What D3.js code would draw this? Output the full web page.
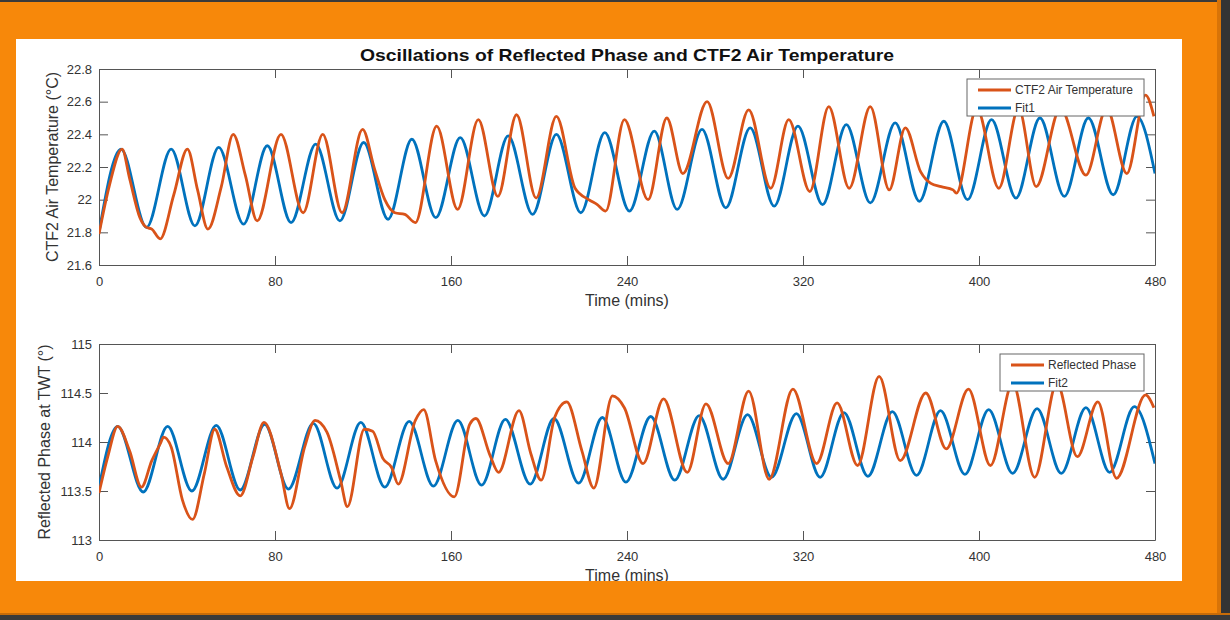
<!DOCTYPE html>
<html>
<head>
<meta charset="utf-8">
<script src="https://cdn.jsdelivr.net/npm/d3@7"></script>
<style>
  html, body { margin: 0; padding: 0; background: #F7880A; }
  svg { display: block; }
  text { font-family: "Liberation Sans", Arial, Helvetica, sans-serif; }
</style>
</head>
<body>
<svg id="chart" width="1230" height="620"></svg>
<script>
// ---------------- data ----------------
const timeTicks  = [0, 80, 160, 240, 320, 400, 480];
const tempTicks  = [21.6, 21.8, 22, 22.2, 22.4, 22.6, 22.8];
const phaseTicks = [113, 113.5, 114, 114.5, 115];

const titleText   = "Oscillations of Reflected Phase and CTF2 Air Temperature";
const xLabelText  = "Time (mins)";
const yTopLabel   = "CTF2 Air Temperature (°C)";
const yBotLabel   = "Reflected Phase at TWT (°)";
const topLegend   = ["CTF2 Air Temperature", "Fit1"];
const botLegend   = ["Reflected Phase", "Fit2"];

// CTF2 air temperature (measured)
const airTempTime  = [0, 4.6, 10.5, 13.9, 18.6, 21.6, 24, 27.8, 34, 40.2, 44.8, 49.5, 55.6, 61, 66.5, 71.9,
  82.7, 92.8, 101.7, 110.5, 119.8, 125.2, 129.9, 134.5, 139, 143.8, 153.5, 163, 172.4, 181.3, 189.8,
  198.7, 207.9, 216.4, 222.6, 226.5, 230.3, 238.8, 249.6, 258.1, 265.4, 276.4, 286, 295.3, 305.3,
  313.5, 323.1, 331.7, 341, 350.6, 359.2, 366.5, 373.5, 378.1, 382.8, 388.2, 389.7, 399, 409,
  418, 426, 437, 448.6, 458, 467.2, 475.7, 479.5];
const airTempValue = [21.79, 22.08, 22.31, 22.13, 21.89, 21.83, 21.82, 21.76, 22.03, 22.31, 22.06, 21.82, 22.08, 22.40, 22.15, 21.87,
  22.40, 21.92, 22.40, 21.92, 22.43, 22.19, 22.0, 21.92, 21.91, 21.86, 22.45, 21.94, 22.49, 22.02, 22.52,
  22.01, 22.51, 22.07, 22.0, 21.97, 21.93, 22.49, 22.0, 22.50, 22.16, 22.60, 22.13, 22.55, 22.07,
  22.49, 22.05, 22.57, 22.07, 22.57, 22.06, 22.44, 22.17, 22.10, 22.08, 22.06, 22.04, 22.56, 22.07,
  22.56, 22.08, 22.56, 22.15, 22.56, 22.16, 22.64, 22.51];

// Fit1 (extrema)
const fit1Time  = [0, 10, 21.6, 32.8, 43.6, 54.4, 65.7, 76.5, 87.3, 98.5, 109.5, 120.3, 131.4, 142.2, 153.1,
  164.2, 175.2, 186, 197.1, 207.9, 219, 229.9, 241.1, 252.4, 262.8, 274.1, 284.9, 296, 306.9, 317.7,
  328.9, 339.7, 350.6, 361.9, 372.9, 384, 394.8, 405.7, 416.8, 427.7, 438.8, 449.7, 461, 471.8, 480];
const fit1Value = [21.80, 22.31, 21.83, 22.31, 21.84, 22.32, 21.85, 22.33, 21.86, 22.34, 21.87, 22.35, 21.88, 22.37, 21.89,
  22.38, 21.90, 22.39, 21.91, 22.40, 21.92, 22.41, 21.93, 22.42, 21.94, 22.43, 21.95, 22.44, 21.96, 22.45,
  21.97, 22.46, 21.98, 22.47, 21.99, 22.48, 22.00, 22.49, 22.01, 22.50, 22.02, 22.50, 22.03, 22.51, 22.16];

// Reflected phase (measured)
const phaseTime  = [0, 4, 8.5, 13.9, 19.3, 24, 27.8, 29.4, 32.8, 37.9, 42.5, 47.9, 52.6, 58, 64.2, 70, 75,
  82.7, 86.6, 93.5, 98.2, 103.6, 109.8, 112.9, 120.6, 124.4, 129.1, 133, 136, 143.8, 147.6, 153,
  161.5, 168.5, 171.3, 177.8, 181.6, 190.9, 196.3, 201, 207.1, 212.6, 219.5, 224.9, 233.4, 238.8,
  247.3, 256.6, 267.4, 275.9, 286, 295.3, 304.6, 315.4, 326.2, 335.5, 344.8, 354.6, 364.2, 375.8,
  385.1, 395.2, 405.2, 415.3, 425.3, 435.4, 444.7, 454, 462.5, 475.7, 479.5];
const phaseValue = [113.48, 113.85, 114.16, 113.91, 113.54, 113.81, 113.98, 114.05, 113.95, 113.41, 113.21, 113.68, 114.13, 113.75, 113.45, 113.85, 114.20,
  113.68, 113.32, 113.95, 114.22, 114.10, 113.61, 113.34, 114.13, 114.11, 113.83, 113.74, 113.57, 114.22, 114.33, 113.81,
  113.44, 114.18, 114.24, 113.86, 113.69, 114.32, 113.88, 113.61, 114.25, 114.41, 113.91, 113.53, 114.47, 114.35,
  113.78, 114.44, 113.69, 114.39, 113.78, 114.52, 113.62, 114.54, 113.78, 114.40, 113.76, 114.67, 113.81, 114.50,
  113.93, 114.54, 113.76, 114.60, 113.64, 114.60, 113.85, 114.41, 113.63, 114.48, 114.35];

// Fit2 (extrema)
const fit2Time  = [0, 8.5, 20.1, 31.2, 42.2, 53.3, 64.2, 75.3, 86.1, 97.4, 108.2, 119, 129.9, 141, 152,
  163.1, 173.9, 184.7, 196, 206.8, 218, 228.8, 239.5, 250.8, 261.7, 272.8, 283.7, 294.8, 305.7, 317,
  327.8, 338.6, 349.5, 360.6, 371.6, 382.5, 393.6, 404.4, 415.3, 426.4, 437.4, 448.6, 459.4, 470.6, 480];
const fit2Value = [113.54, 114.16, 113.49, 114.16, 113.50, 114.17, 113.51, 114.18, 113.52, 114.19, 113.53, 114.20, 113.54, 114.21, 113.55,
  114.22, 113.56, 114.23, 113.57, 114.24, 113.58, 114.25, 113.59, 114.26, 113.61, 114.27, 113.62, 114.28, 113.64, 114.29,
  113.64, 114.30, 113.65, 114.31, 113.66, 114.32, 113.67, 114.33, 113.68, 114.34, 113.68, 114.35, 113.69, 114.36, 113.78];

// ---------------- drawing ----------------
const ORANGE = "#D95319", BLUE = "#0072BD", AXIS = "#555", TXT = "#333";
const svg = d3.select("#chart");

// frame
svg.append("rect").attr("width", 1230).attr("height", 620).attr("fill", "#F7880A");
svg.append("rect").attr("x", 0).attr("y", 0).attr("width", 1230).attr("height", 2).attr("fill", "#3a3a3a");
svg.append("rect").attr("x", 1217).attr("y", 0).attr("width", 4).attr("height", 620).attr("fill", "#D87408");
svg.append("rect").attr("x", 1221).attr("y", 0).attr("width", 9).attr("height", 620).attr("fill", "#343434");
svg.append("rect").attr("x", 0).attr("y", 613).attr("width", 1230).attr("height", 2).attr("fill", "#C86C08");
svg.append("rect").attr("x", 0).attr("y", 615).attr("width", 1230).attr("height", 5).attr("fill", "#3a3a3a");
svg.append("rect").attr("x", 16).attr("y", 39).attr("width", 1166).attr("height", 542).attr("fill", "#fff");

svg.append("defs").append("clipPath").attr("id", "panel")
  .append("rect").attr("x", 16).attr("y", 39).attr("width", 1166).attr("height", 542);
const root = svg.append("g").attr("clip-path", "url(#panel)");

const x = d3.scaleLinear().domain([0, 480]).range([99, 1155]);

root.append("text").attr("x", 627).attr("y", 60.5).attr("text-anchor", "middle")
  .attr("font-size", 17).attr("font-weight", "bold").attr("fill", "#111")
  .attr("textLength", 534).attr("lengthAdjust", "spacingAndGlyphs").text(titleText);

function panel(cfg) {
  const y = d3.scaleLinear().domain(cfg.domain).range([cfg.bottom, cfg.top]);
  const g = root.append("g");
  const TL = 9;

  const style = sel => {
    sel.selectAll(".domain").attr("stroke", AXIS).attr("stroke-width", 1);
    sel.selectAll(".tick line").attr("stroke", AXIS).attr("stroke-width", 1);
    sel.selectAll(".tick text").attr("fill", TXT).attr("font-size", 13)
       .attr("font-family", '"Liberation Sans", Arial, sans-serif');
  };

  g.append("g").attr("transform", `translate(0,${cfg.bottom})`)
    .call(d3.axisBottom(x).tickValues(timeTicks).tickFormat(d => String(d))
      .tickSizeInner(-TL).tickSizeOuter(0).tickPadding(12)).call(style);
  g.append("g").attr("transform", `translate(0,${cfg.top})`)
    .call(d3.axisTop(x).tickValues(timeTicks).tickFormat("")
      .tickSizeInner(-TL).tickSizeOuter(0)).call(style);
  g.append("g").attr("transform", `translate(${x(0)},0)`)
    .call(d3.axisLeft(y).tickValues(cfg.ticks).tickFormat(d => String(d))
      .tickSizeInner(-TL).tickSizeOuter(0).tickPadding(7)).call(style);
  g.append("g").attr("transform", `translate(${x(480)},0)`)
    .call(d3.axisRight(y).tickValues(cfg.ticks).tickFormat("")
      .tickSizeInner(-TL).tickSizeOuter(0)).call(style);

  const line = d3.line().x(d => x(d[0])).y(d => y(d[1])).curve(d3.curveMonotoneX);
  const clipId = "plot" + cfg.top;
  svg.select("defs").append("clipPath").attr("id", clipId)
    .append("rect").attr("x", x(0)).attr("y", cfg.top).attr("width", x(480) - x(0)).attr("height", cfg.bottom - cfg.top);
  const pg = g.append("g").attr("clip-path", `url(#${clipId})`);
  pg.append("path").datum(d3.zip(cfg.fitT, cfg.fitV)).attr("d", line)
    .attr("fill", "none").attr("stroke", BLUE).attr("stroke-width", 2.8).attr("stroke-linejoin", "round");
  pg.append("path").datum(d3.zip(cfg.dataT, cfg.dataV)).attr("d", line)
    .attr("fill", "none").attr("stroke", ORANGE).attr("stroke-width", 2.8).attr("stroke-linejoin", "round");

  // axis labels
  g.append("text").attr("x", 627).attr("y", cfg.bottom + 41).attr("text-anchor", "middle")
    .attr("font-size", 16).attr("fill", TXT).text(xLabelText);
  g.append("text").attr("transform", `translate(${cfg.ylx},${(cfg.top + cfg.bottom) / 2}) rotate(-90)`)
    .attr("text-anchor", "middle").attr("font-size", 16).attr("fill", TXT).text(cfg.ylabel);

  // legend
  const L = cfg.legend;
  const lg = g.append("g");
  lg.append("rect").attr("x", L.x0).attr("y", L.y0).attr("width", L.x1 - L.x0).attr("height", L.y1 - L.y0)
    .attr("fill", "#fff").attr("stroke", "#666").attr("stroke-width", 1);
  L.names.forEach((n, i) => {
    const yy = L.y0 + 11 + i * 18;
    lg.append("line").attr("x1", L.x0 + 11).attr("x2", L.x0 + 44).attr("y1", yy).attr("y2", yy)
      .attr("stroke", i === 0 ? ORANGE : BLUE).attr("stroke-width", 2.8);
    lg.append("text").attr("x", L.x0 + 48).attr("y", yy + 4.2).attr("font-size", 12).attr("fill", TXT).text(n);
  });
}

panel({ top: 69, bottom: 265, domain: [21.6, 22.8], ticks: tempTicks,
  dataT: airTempTime, dataV: airTempValue, fitT: fit1Time, fitV: fit1Value,
  ylabel: yTopLabel, ylx: 58,
  legend: { x0: 967, x1: 1144, y0: 79, y1: 116, names: topLegend } });

panel({ top: 344, bottom: 540, domain: [113, 115], ticks: phaseTicks,
  dataT: phaseTime, dataV: phaseValue, fitT: fit2Time, fitV: fit2Value,
  ylabel: yBotLabel, ylx: 50,
  legend: { x0: 1000, x1: 1144, y0: 354, y1: 391, names: botLegend } });
</script>
</body>
</html>
